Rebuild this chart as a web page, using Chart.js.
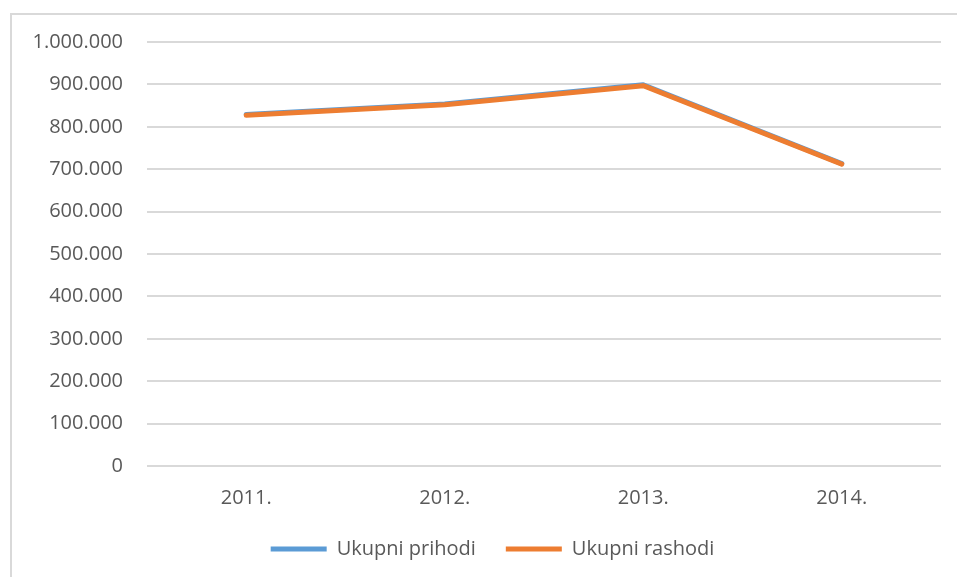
<!DOCTYPE html>
<html>
<head>
<meta charset="utf-8">
<script src="https://cdn.jsdelivr.net/npm/chart.js@4"></script>
<style>
  html, body { margin: 0; padding: 0; background: #fff; overflow: hidden; }
  #frame { position: absolute; left: 10px; top: 13px; width: 1000px; height: 700px; border: 2px solid #d9d9d9; }
  #wrap { position: absolute; left: 0; top: 0; width: 957px; height: 577px; }
</style>
</head>
<body>
<div id="frame"></div>
<div id="wrap"><canvas id="chart"></canvas></div>
<script>
const years = ["2011.", "2012.", "2013.", "2014."];
const prihodi = [829000, 854000, 899000, 713000];
const rashodi = [827000, 852000, 897000, 712000];

function formatDots(v) {
  return String(v).replace(/\B(?=(\d{3})+(?!\d))/g, ".");
}

const textColor = "#595959";
const gridColor = "#d9d9d9";
const fontSize = 20;

// legend in the original sits a bit right of centre
const shiftLegend = {
  id: "shiftLegend",
  afterLayout(chart) {
    if (chart.legend) {
      chart.legend.left += 22;
      chart.legend.right += 22;
    }
  }
};

new Chart(document.getElementById("chart").getContext("2d"), {
  type: "line",
  data: {
    labels: years,
    datasets: [
      {
        label: "Ukupni prihodi",
        data: prihodi,
        borderColor: "#5b9bd5",
        backgroundColor: "#5b9bd5",
        borderWidth: 5,
        pointRadius: 0,
        borderCapStyle: "round",
        borderJoinStyle: "round",
        order: 1
      },
      {
        label: "Ukupni rashodi",
        data: rashodi,
        borderColor: "#ed7d31",
        backgroundColor: "#ed7d31",
        borderWidth: 5,
        pointRadius: 0,
        borderCapStyle: "round",
        borderJoinStyle: "round",
        order: 0
      }
    ]
  },
  options: {
    responsive: true,
    maintainAspectRatio: false,
    animation: false,
    layout: { padding: { top: 42, right: 16, bottom: 8, left: 0 } },
    plugins: {
      tooltip: { enabled: false },
      legend: {
        position: "bottom",
        labels: {
          color: textColor,
          font: { family: "'Open Sans'", size: fontSize },
          boxWidth: 56,
          boxHeight: 5,
          padding: 30,
          sort: (a, b) => a.datasetIndex - b.datasetIndex,
          generateLabels: chart => {
            const items = Chart.defaults.plugins.legend.labels.generateLabels(chart);
            items.forEach(it => { it.lineWidth = 0; });
            return items;
          }
        }
      }
    },
    scales: {
      x: {
        offset: true,
        grid: { display: false, drawTicks: false },
        border: { display: false },
        ticks: { color: textColor, font: { family: "'Open Sans'", size: fontSize }, padding: 20 },
        afterFit: scale => { scale.height = 43; }
      },
      y: {
        min: 0,
        max: 1000000,
        grid: { color: gridColor, lineWidth: 2, drawTicks: false },
        border: { display: false },
        ticks: {
          stepSize: 100000,
          color: textColor,
          font: { family: "'Open Sans'", size: fontSize },
          padding: 24,
          callback: v => formatDots(v)
        },
        afterFit: scale => { scale.width = 147; }
      }
    }
  },
  plugins: [shiftLegend]
});
</script>
</body>
</html>
